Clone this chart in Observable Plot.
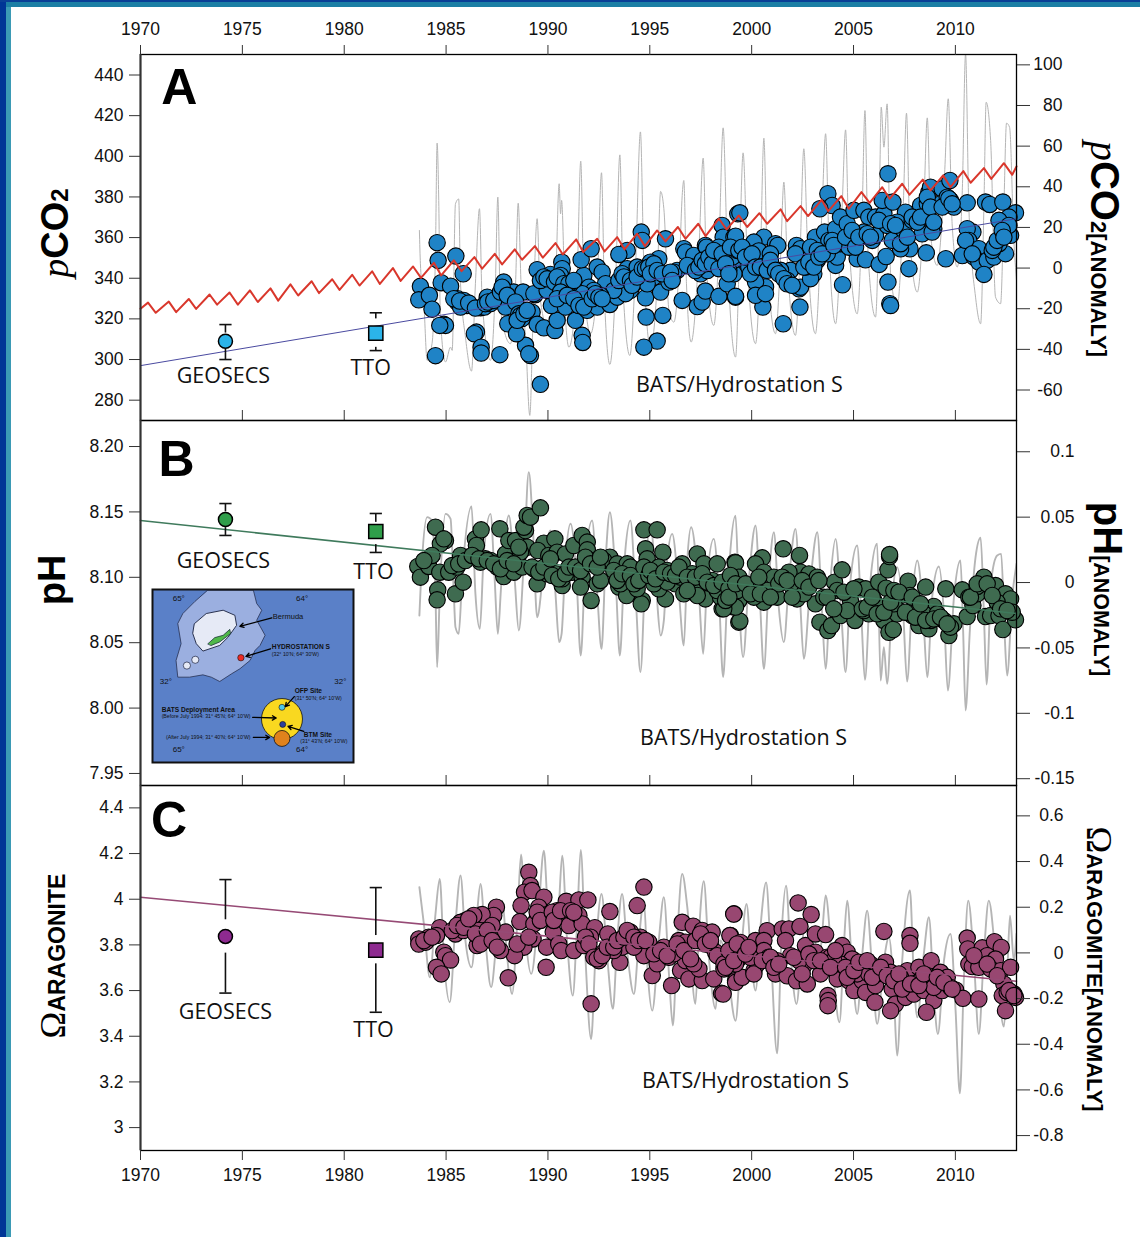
<!DOCTYPE html>
<html><head><meta charset="utf-8">
<script src="https://cdn.jsdelivr.net/npm/d3@7"></script>
<script src="https://cdn.jsdelivr.net/npm/@observablehq/plot@0.6"></script>
<style>
html,body{margin:0;padding:0;background:#fff}
#page{position:relative;width:1140px;height:1237px;overflow:hidden;background:#fff;font-family:"Liberation Sans",sans-serif;color:#000}
.band{position:absolute}
.panel{position:absolute;left:0}
.panel svg{display:block;background:transparent!important;overflow:visible}
.title{position:absolute;white-space:nowrap;font-weight:bold;line-height:1}
.title i{font-family:"Liberation Serif",serif;font-weight:normal}
.title .om{font-family:"Liberation Serif",serif;font-weight:normal}
</style></head><body><div id="page"></div>
<script>
const xTicks=[1970,1975,1980,1985,1990,1995,2000,2005,2010];
const pco2Ticks=[280,300,320,340,360,380,400,420,440];
const pco2AnomTicks=[-60,-40,-20,0,20,40,60,80,100];
const phTicks=[7.95,8.00,8.05,8.10,8.15,8.20];
const phAnomTicks=[-0.15,-0.1,-0.05,0,0.05,0.1];
const omegaTicks=[3,3.2,3.4,3.6,3.8,4,4.2,4.4];
const omegaAnomTicks=[-0.8,-0.6,-0.4,-0.2,0,0.2,0.4,0.6];

const atmCO2=[[1970,325],[1970.37,328],[1970.75,323],[1971.39,328.5],[1971.75,323.3],[1972.37,329.8],[1972.73,324.9],[1973.39,332],[1973.76,327],[1974.37,333],[1974.78,327],[1975.37,334],[1975.76,328.3],[1976.38,335],[1976.76,329],[1977.36,337],[1977.74,331.5],[1978.4,338.5],[1978.76,332.7],[1979.41,339.5],[1979.77,334.3],[1980.39,341.7],[1980.75,336.4],[1981.37,343.4],[1981.75,337.2],[1982.39,345],[1982.77,338.7],[1983.38,345.8],[1983.77,340.2],[1984.4,347.6],[1984.76,341.4],[1985.38,348.8],[1985.76,343.5],[1986.39,350.4],[1986.77,344.7],[1987.39,352],[1987.75,346.8],[1988.37,354.2],[1988.73,349.1],[1989.36,355.8],[1989.75,350.1],[1990.37,357.3],[1990.73,351.7],[1991.39,359.1],[1991.73,352.9],[1992.42,359.4],[1992.78,353.2],[1993.4,360.2],[1993.76,354.2],[1994.38,361.9],[1994.76,355.8],[1995.36,363.5],[1995.77,358.1],[1996.38,365.2],[1996.75,359.4],[1997.38,366.8],[1997.74,360.7],[1998.39,369.3],[1998.77,364],[1999.37,370.9],[1999.78,365.2],[2000.38,372],[2000.76,366.8],[2001.42,373.9],[2001.74,368.1],[2002.4,375.5],[2002.77,370.6],[2003.43,378.6],[2003.76,373],[2004.4,380.4],[2004.77,374.2],[2005.39,382.4],[2005.79,377.1],[2006.41,384.8],[2006.77,379.1],[2007.39,386.5],[2007.75,381.1],[2008.4,388.5],[2008.78,383.2],[2009.4,390.6],[2009.76,384.8],[2010.39,392.7],[2010.75,387],[2011.4,394.2],[2011.76,388.9],[2012.38,396.6],[2012.79,390.9],[2013,395]];

const grayPco2=[[1983.69,363.5],[1983.74,347.1],[1983.91,327.5],[1984.07,299.6],[1984.31,307.8],[1984.48,353.7],[1984.56,406.5],[1984.64,378.3],[1984.72,320.9],[1984.97,298.8],[1985.22,306.1],[1985.3,304.5],[1985.46,376.6],[1985.62,379],[1985.71,337.3],[1985.95,311.1],[1986.25,294.3],[1986.44,337.3],[1986.64,374.2],[1986.77,329.1],[1987.18,299.6],[1987.42,337.3],[1987.54,379.9],[1987.67,324.2],[1988.16,307.8],[1988.41,337.3],[1988.54,376.9],[1988.68,337.3],[1988.9,311.1],[1989.11,272.5],[1989.27,320.9],[1989.47,369.3],[1989.63,329.1],[1990.04,314.3],[1990.37,337.3],[1990.55,386.5],[1990.62,371.7],[1990.67,378.3],[1990.86,320.9],[1991.03,306.1],[1991.43,340.6],[1991.61,397.6],[1991.76,337.3],[1992.09,312.7],[1992.42,337.3],[1992.63,391.9],[1992.78,329.1],[1993.04,297.6],[1993.32,337.3],[1993.53,400.7],[1993.69,334],[1994.02,302],[1994.3,345.5],[1994.54,412],[1994.71,345.5],[1995.03,306.1],[1995.36,337.3],[1995.53,382.7],[1995.69,374.2],[1995.94,324.2],[1996.18,318.4],[1996.48,353.7],[1996.59,380.7],[1996.67,388.1],[1996.8,337.3],[1997.03,308.6],[1997.41,353.7],[1997.62,399.1],[1997.78,345.5],[1998.14,316.8],[1998.39,353.7],[1998.6,414],[1998.8,353.7],[1999.21,301.2],[1999.42,358.6],[1999.58,401.7],[1999.78,350.4],[2000.19,307.8],[2000.43,350.4],[2000.6,408.9],[2000.76,350.4],[2001.17,312.7],[2001.42,350.4],[2001.58,387.3],[2001.74,350.4],[2002.15,311.9],[2002.37,350.4],[2002.56,403.7],[2002.76,350.4],[2003.13,312.7],[2003.46,375],[2003.63,411.1],[2003.79,358.6],[2004.12,317.6],[2004.44,375],[2004.61,413],[2004.77,358.6],[2005.18,322.5],[2005.43,375],[2005.56,422.5],[2005.72,350.4],[2006.08,320.9],[2006.29,391.4],[2006.36,424.2],[2006.49,404.5],[2006.65,425.8],[2006.82,342.2],[2007.14,325.8],[2007.44,375],[2007.6,421.2],[2007.77,358.6],[2008.13,333.2],[2008.45,375],[2008.62,418.9],[2008.81,358.6],[2009.11,346.3],[2009.47,391.4],[2009.65,428.3],[2009.84,366.8],[2010.09,345.5],[2010.34,383.2],[2010.5,450.4],[2010.66,375],[2010.99,330.7],[2011.24,317.6],[2011.4,375],[2011.51,426.6],[2011.73,407.8],[2011.97,330.7],[2012.22,327.5],[2012.38,375],[2012.51,416.3],[2012.66,414.3],[2012.87,358.6],[2013,338.9]];

const batsPco2=[[1984.56,357.5],[1984.61,348.8],[1985.48,350.9],[1985.84,342.2],[1984.76,337.8],[1985.22,336.1],[1983.74,336],[1983.66,329.4],[1984.18,331.6],[1984.31,324.8],[1984.89,317.3],[1984.97,316.8],[1984.69,316.8],[1984.48,301.9],[1986.49,313.5],[1986.39,312.7],[1986.72,306.1],[1986.72,303.2],[1987.64,302.4],[1988.9,307],[1989.14,302],[1989.06,302.8],[1989.63,287.8],[1985.57,329.9],[1985.87,329.1],[1985.54,328.3],[1986.03,326.6],[1985.71,325.8],[1986.69,325.5],[1986.88,325.8],[1987.02,330.7],[1987.18,327.5],[1987.47,329.9],[1987.83,338.1],[1987.8,334.8],[1988.16,332.4],[1988.32,333.2],[1988.78,333.2],[1989.37,331.9],[1989.31,332.4],[1988.49,325.8],[1987.92,325.8],[1989.22,323.3],[1988.73,320.1],[1988.57,320.9],[1988.03,317.6],[1988.46,312.7],[1989.47,317.3],[1989.8,315.6],[1990.34,314.3],[1990.45,319.3],[1991.35,319.3],[1991.68,311.9],[1991.71,308.4],[1989.47,344.2],[1989.88,339.7],[1990.12,341.9],[1990.68,347.9],[1990.7,344.7],[1990.62,341.4],[1990.04,335.6],[1990.17,326.6],[1990.86,325.8],[1991.19,338.1],[1991.43,328.8],[1991.93,324.2],[1991.76,341.4],[1991.63,349.1],[1992.01,335.6],[1992.42,345.5],[1992.66,343],[1992.83,337.3],[1992.42,325.8],[1993.04,327.1],[1993.4,330.7],[1993.89,344.7],[1993.89,353.7],[1993.48,351.7],[1992.12,354.5],[1994.58,362.7],[1994.63,358.6],[1995.77,359.4],[1995.44,349.6],[1995.03,347.9],[1994.38,345.5],[1994.05,334],[1994.79,330.4],[1994.82,320.9],[1995.64,321.7],[1995.36,309.1],[1994.71,306.1],[1995.53,333.2],[1995.94,338.1],[1996.34,343.8],[1996.59,329.1],[1996.67,354.5],[1996.75,352.9],[1997.16,351.2],[1997.73,356.1],[1997.78,355.3],[1997.33,326.1],[1997.57,328.3],[1997.73,333.7],[1998.39,331.1],[1999.21,330.7],[1998.8,337.3],[1998.55,366],[1998.6,360.2],[1999.13,360.2],[1999.32,371.7],[1994.22,337.3],[1994.54,340.6],[1994.95,342.2],[1995.2,340.6],[1994.87,337.3],[1995.85,342.2],[1996.18,343],[1997.08,345.5],[1997.49,342.2],[1997.82,343.8],[1998.14,348.8],[1998.47,353.7],[1998.96,355.3],[1999.29,347.1],[1999.13,342.2],[1998.64,347.1],[1993.56,337.3],[1993.81,332.4],[1993.23,334],[1992.58,331.6],[1992.25,334],[1991.68,332.4],[1991.11,337.3],[1990.53,332.4],[1989.96,334],[1999.42,372.2],[1999.21,360.7],[1999.21,331.1],[2000.6,360.2],[2000.11,357.8],[2000.35,353.4],[2001.17,357],[2001.28,356.1],[2000.68,335.7],[2000.55,325.8],[2000.19,338.1],[2000.19,331.6],[2000.68,332.4],[2001.55,317.6],[2002.37,325.8],[2002.33,334.8],[2001.91,343.9],[2002.4,335.6],[2002.2,356.1],[2002.4,354.5],[2003.13,360.2],[2002.89,355.3],[2003.74,381.6],[2003.95,375.8],[2003.35,374.2],[2003.58,362.7],[2003.79,358.6],[2004.12,364.4],[2004.36,370.1],[2004.69,366.8],[2004.93,358.6],[2005.02,373.4],[2005.51,373.4],[2005.75,370.1],[2006.08,370.1],[2006.49,371.7],[2006.69,391.4],[2006.41,378.3],[2006.93,377.5],[2004.12,346.3],[2004.46,336.8],[2004.2,350.4],[2003.22,348.8],[2003.05,342.2],[2002.89,339.8],[2005.18,349.6],[2005.59,349.1],[2006.26,346.8],[2006.6,350.7],[2006.69,338.1],[2006.78,327.5],[2006.82,326.6],[2007.77,354.5],[2007.72,344.7],[2007.31,354.5],[2008.57,352.5],[2009.53,349.6],[2008.94,364.4],[2008.37,361.9],[2007.55,372.5],[2007.96,369.3],[2008.29,375.8],[2008.7,382.4],[2008.78,384.8],[2008.62,376.6],[2008.62,370.1],[2009.35,384],[2009.73,388.1],[2009.27,376.6],[2009.6,379.9],[2009.76,378.3],[2009.93,375],[2010.58,377.1],[2011.48,377.5],[2011.69,376.3],[2012.33,377.5],[2012.95,372.2],[2012.63,370.1],[2012.14,368.5],[2012.71,361.1],[2012.63,366],[2010.86,362.7],[2010.58,364.4],[2010.66,358.6],[2010.66,354.5],[2010.34,351.2],[2011.15,354.5],[2010.91,350.4],[2011.15,348],[2011.56,348.8],[2011.4,341.9],[2011.89,350.4],[2012.46,352.1],[2012.14,357],[2011.81,353.7],[1998.8,352],[1999.12,348.8],[1999.62,352],[1999.86,345.5],[2000.27,345.5],[2000.92,352],[2001.42,343.9],[2001.74,339],[2002.64,345.5],[2003.22,353.7],[2003.71,352],[2004.36,357],[2004.77,355.3],[2005.34,360.2],[2005.92,358.6],[2005.51,362.7],[2006.08,361.1],[2006.65,366],[2007.14,367.6],[2006.9,358.6],[2007.47,363.5],[2007.88,368.5],[2008.45,370.1],[2008.86,362.7],
[1985.38,329.9],[1985.67,328.8],[1986.11,327.8],[1986.44,325.3],[1986.93,327.5],[1987.05,328.3],[1987.34,329.1],[1987.67,333.2],[1987.75,335.6],[1988,331.6],[1988.41,328.3],[1988.57,322.5],[1988.65,321.7],[1988.49,319.3],[1988.82,322.5],[1988.98,324.2],[1989.63,338.9],[1989.8,340.6],[1989.96,339.7],[1990.32,338.1],[1990.45,340.6],[1990.78,337.3],[1990.86,334],[1991.03,337.3],[1991.27,338.9],[1990.62,333.2],[1990.45,329.9],[1990.94,331.6],[1991.27,329.9],[1991.52,326.6],[1991.76,325.8],[1992.17,329.9],[1992.33,332.4],[1992.5,330.7],[1992.66,329.9],[1993.48,338.9],[1993.64,342.2],[1993.73,340.6],[1994.05,338.9],[1994.13,336.5],[1994.38,340.6],[1994.63,344.7],[1994.79,344.7],[1994.95,345.5],[1995.2,347.1],[1995.03,342.2],[1995.36,343.8],[1995.61,342.2],[1996.02,343],[1996.1,338.9],[1996.84,346.3],[1997.24,343.8],[1997.41,345.5],[1997.57,348.8],[1997.73,347.1],[1997.9,350.4],[1998.06,347.1],[1998.39,344.7],[1998.47,352],[1998.72,349.6],[1998.88,343.8],[1999.05,350.4],[1999.29,353.7],[1998.39,355.3],[1998.14,353.7],
[1998.55,352],[1998.72,347.1],[1998.96,355.3],[1998.88,342.2],[1999.37,353.7],[1999.53,355.3],[1999.7,350.4],[1999.94,342.2],[2000.02,352],[2000.19,345.5],[2000.43,345.5],[2000.76,343.9],[2000.92,348.8],[2001.17,343.9],[2001.33,342.2],[2001.58,339.8],[2001.74,337.3],[2001.99,336.5],[2002.15,352],[2002.56,345.5],[2002.81,348],[2003.05,345.5],[2003.3,350.4],[2003.46,352],[2003.95,358.6],[2004.03,356.1],[2004.61,360.2],[2004.93,363.5],[2005.1,355.3],[2005.26,360.2],[2005.67,361.9],[2005.83,360.2],[2006.24,368.5],[2006.82,366.8],[2007.06,366],[2007.31,357],[2007.64,360.2],[2007.88,370.1],[2008.13,367.6],[2008.29,370.1],[2008.62,379.9],[2008.78,375],[2008.94,367.6],[2009.35,375],[2009.68,379.1],[2009.84,376.6],[2010.5,358.6],[2010.83,352],[2011.89,355.3],[2012.05,358.6],[2012.3,363.5],[2012.38,360.2]];

const grayPh=[[1983.69,8.0708],[1983.82,8.1128],[1984.07,8.146],[1984.31,8.1434],[1984.48,8.0874],[1984.56,8.0313],[1984.69,8.0874],[1984.97,8.1485],[1985.22,8.1447],[1985.38,8.0874],[1985.46,8.0619],[1985.62,8.0568],[1985.79,8.1001],[1986.25,8.1541],[1986.44,8.0874],[1986.66,8.0606],[1986.85,8.1179],[1987.18,8.1485],[1987.38,8.1001],[1987.54,8.0568],[1987.7,8.0925],[1988.08,8.1473],[1988.36,8.1001],[1988.57,8.0593],[1988.82,8.1128],[1989.06,8.1804],[1989.26,8.1383],[1989.47,8.0695],[1989.8,8.1078],[1990.12,8.1358],[1990.37,8.0874],[1990.55,8.0504],[1990.67,8.0568],[1990.86,8.1128],[1991.11,8.1409],[1991.4,8.1001],[1991.61,8.0402],[1991.84,8.1128],[1992.17,8.1434],[1992.42,8.0874],[1992.63,8.0453],[1992.83,8.1128],[1993.04,8.1498],[1993.32,8.1001],[1993.53,8.0402],[1993.76,8.1128],[1994.05,8.1434],[1994.3,8.0874],[1994.54,8.0275],[1994.79,8.1078],[1995.03,8.1409],[1995.33,8.0874],[1995.53,8.0555],[1995.69,8.067],[1995.85,8.1128],[1996.1,8.1332],[1996.43,8.0874],[1996.67,8.0479],[1996.84,8.1128],[1997.03,8.1383],[1997.41,8.0874],[1997.62,8.0415],[1997.82,8.1001],[1998.14,8.1294],[1998.39,8.0874],[1998.6,8.0237],[1998.8,8.0848],[1999.21,8.1472],[1999.37,8.0848],[1999.58,8.039],[1999.86,8.0975],[2000.19,8.1396],[2000.4,8.0848],[2000.6,8.030],[2000.84,8.0975],[2001.09,8.1345],[2001.33,8.0772],[2001.58,8.0504],[2001.83,8.0975],[2002.15,8.137],[2002.37,8.0848],[2002.56,8.0377],[2002.89,8.0975],[2003.22,8.1345],[2003.46,8.072],[2003.63,8.030],[2003.87,8.0975],[2004.12,8.1294],[2004.4,8.072],[2004.61,8.0275],[2004.85,8.0975],[2005.18,8.1243],[2005.38,8.072],[2005.56,8.0216],[2005.83,8.0975],[2006.16,8.1256],[2006.33,8.021],[2006.49,8.0466],[2006.65,8.0185],[2006.9,8.0848],[2007.14,8.1077],[2007.44,8.072],[2007.63,8.0203],[2007.88,8.0848],[2008.13,8.1128],[2008.42,8.072],[2008.62,8.0236],[2008.86,8.0848],[2009.19,8.1083],[2009.44,8.072],[2009.63,8.0135],[2009.93,8.0848],[2010.25,8.1128],[2010.38,8.0593],[2010.5,7.9982],[2010.71,8.0593],[2010.99,8.1154],[2011.24,8.1302],[2011.4,8.072],[2011.53,8.018],[2011.76,8.0975],[2012.05,8.1167],[2012.25,8.1179],[2012.41,8.0593],[2012.54,8.0249],[2012.79,8.0848],[2013,8.1103]];

const batsPh=[[1984.48,8.1383],[1984.97,8.1281],[1984.72,8.1256],[1984.89,8.1294],[1983.61,8.1083],[1983.74,8.1001],[1984.15,8.1083],[1984.31,8.1167],[1984.69,8.1039],[1984.59,8.0904],[1984.56,8.0828],[1985.13,8.1039],[1985.46,8.0874],[1985.84,8.0963],[1985.54,8.1078],[1985.79,8.1129],[1986.03,8.1154],[1985.71,8.1167],[1986.44,8.1294],[1986.72,8.1363],[1986.49,8.1243],[1986.69,8.1116],[1986.93,8.1141],[1987.18,8.1129],[1987.51,8.1078],[1987.83,8.1006],[1987.64,8.1371],[1987.92,8.1179],[1988.08,8.1281],[1988.41,8.1281],[1988.32,8.1039],[1988.73,8.1078],[1988.9,8.1358],[1988.82,8.1383],[1988.98,8.1473],[1989.14,8.146],[1989.63,8.1531],[1988.98,8.1230],[1988.65,8.1192],[1989.31,8.1065],[1989.47,8.0950],[1989.8,8.1261],[1989.5,8.1205],[1990.34,8.1294],[1990.04,8.1167],[1990.45,8.1192],[1990.86,8.1179],[1989.96,8.1027],[1990.37,8.1027],[1990.7,8.0937],[1990.7,8.0988],[1991.19,8.1039],[1991.27,8.1243],[1991.68,8.132],[1991.93,8.1269],[1991.93,8.1210],[1991.68,8.1001],[1991.6,8.0925],[1992.12,8.0823],[1992.42,8.0950],[1992.58,8.0976],[1992.25,8.1129],[1993.04,8.1154],[1992.74,8.1129],[1993.4,8.1103],[1993.48,8.0925],[1993.89,8.1103],[1994.05,8.1078],[1993.86,8.0937],[1993.86,8.0861],[1994.63,8.0823],[1994.58,8.0797],[1994.71,8.1363],[1995.36,8.1363],[1994.79,8.1218],[1994.87,8.1141],[1995.64,8.1192],[1995.77,8.0835],[1995.44,8.0912],[1994.38,8.0912],[1995.2,8.095],[1995.44,8.1078],[1995.85,8.1052],[1996.59,8.1103],[1996.26,8.095],[1996.67,8.0874],[1997.08,8.1027],[1997.16,8.0886],[1997.33,8.1179],[1997.66,8.1103],[1997.73,8.0835],[1998.31,8.1103],[1998.06,8.0976],[1998.55,8.0759],[1998.47,8.0848],[1999.13,8.0772],[1999.18,8.1116],[1999.37,8.0657],[1999.13,8.0976],[1998.72,8.095],[1999.37,8.0823],[1994.54,8.1001],[1994.87,8.1039],[1993.56,8.095],[1994.22,8.0976],[1995.85,8.0963],[1996.51,8.1001],[1997,8.0937],[1997.49,8.095],[1998.31,8.0899],[1999.21,8.1111],[1999.42,8.0665],[1999.21,8.0772],[1998.63,8.0759],[2000.52,8.1149],[2000.19,8.1103],[2000.6,8.1039],[2000.6,8.081],[2001.25,8.0848],[2001.55,8.1218],[2002.35,8.1167],[2002.4,8.1039],[2001.83,8.1039],[2001.09,8.1001],[2000.11,8.0848],[1999.45,8.0975],[1998.8,8.0975],[2002.23,8.0835],[2002.81,8.1026],[2003.22,8.1001],[2003.13,8.0797],[2003.35,8.0657],[2003.74,8.0593],[2003.92,8.0631],[2004.07,8.0963],[2004.44,8.1057],[2004.2,8.0899],[2004.36,8.0708],[2005.07,8.067],[2004.85,8.0823],[2005.26,8.0925],[2005.59,8.0912],[2006,8.0823],[2005.75,8.0721],[2006.24,8.0963],[2006.6,8.0917],[2006.69,8.1057],[2006.77,8.1159],[2006.77,8.1174],[2006.49,8.067],[2006.74,8.058],[2006.95,8.0601],[2007.14,8.0721],[2007.68,8.097],[2007.77,8.0861],[2007.31,8.0861],[2008.21,8.0631],[2007.88,8.0708],[2008.7,8.0606],[2008.54,8.0925],[2008.94,8.0777],[2008.29,8.0759],[2008.78,8.067],[2009.44,8.067],[2009.53,8.0912],[2009.93,8.0644],[2009.68,8.0555],[2009.76,8.0619],[2010.34,8.0904],[2010.58,8.07],[2010.86,8.0784],[2010.66,8.0848],[2011.4,8.1001],[2011.07,8.0874],[2011.48,8.07],[2011.07,8.0930],[2011.97,8.0937],[2011.73,8.0708],[2012.14,8.0708],[2012.33,8.0601],[2012.46,8.0874],[2012.71,8.0835],[2012.95,8.0675],[2012.79,8.0733],[2012.05,8.081],[1999.78,8.0925],[2000.27,8.095],[2000.76,8.0899],[2001.33,8.095],[2001.99,8.0925],[2002.56,8.0874],[2003.54,8.0848],[2004.69,8.0746],[2005.51,8.0746],[2006.33,8.0772],[2006.98,8.0797],[2007.64,8.0733],[2008.45,8.0721],[2009.11,8.0721],
[1983.91,8.1128],[1985.3,8.109],[1985.62,8.1103],[1985.95,8.1128],[1986.28,8.1167],[1986.61,8.1141],[1987.02,8.1128],[1987.34,8.1103],[1987.67,8.1065],[1988,8.1128],[1988.32,8.1103],[1988.57,8.123],[1989.22,8.1078],[1989.55,8.1039],[1989.8,8.1078],[1990.12,8.1141],[1990.21,8.1014],[1990.53,8.0988],[1990.86,8.1027],[1991.03,8.1078],[1991.35,8.1078],[1991.6,8.1052],[1991.84,8.1154],[1992.09,8.1103],[1992.42,8.1078],[1992.58,8.1154],[1993.23,8.1052],[1993.4,8.0976],[1993.64,8.1027],[1994.05,8.1014],[1994.22,8.095],[1994.46,8.0976],[1994.71,8.1078],[1994.95,8.1014],[1995.03,8.1052],[1995.28,8.0988],[1995.69,8.1039],[1996.02,8.1027],[1996.26,8.1014],[1996.43,8.1078],[1996.84,8.1001],[1997.24,8.1001],[1997.57,8.1027],[1997.82,8.0963],[1998.14,8.0937],[1998.55,8.0963],[1998.88,8.0912],[1999.29,8.0899],[1999.37,8.1001],[1998.96,8.1014],[1998.72,8.0823],[1997.33,8.0861],[1996.84,8.0899],
[1998.88,8.0848],[1999.21,8.095],[1999.7,8.095],[1999.94,8.0874],[2000.35,8.1001],[2000.43,8.0874],[2000.92,8.0848],[2001.5,8.1001],[2001.74,8.0975],[2001.99,8.0848],[2002.48,8.0975],[2002.81,8.0925],[2003.3,8.0975],[2003.71,8.0848],[2004.03,8.0759],[2004.53,8.0886],[2005.02,8.0912],[2005.43,8.0759],[2005.67,8.0772],[2005.92,8.0848],[2006.16,8.0721],[2006.49,8.0733],[2006.82,8.081],[2006.98,8.0899],[2007.23,8.0886],[2007.55,8.0733],[2007.88,8.0848],[2008.04,8.0695],[2008.29,8.0797],[2008.54,8.067],[2008.94,8.0682],[2009.27,8.0695],[2009.6,8.0644],[2010.74,8.0848],[2011.07,8.095],[2011.56,8.095],[2011.81,8.0861],[2012.22,8.0759],[2012.54,8.0746]];

const grayOmega=[[1983.69,4.053],[1983.91,3.892],[1984.2,3.658],[1984.48,3.936],[1984.69,4.089],[1984.89,3.746],[1985.18,3.549],[1985.46,3.892],[1985.71,4.104],[1985.95,3.819],[1986.25,3.702],[1986.49,3.907],[1986.69,4.067],[1986.93,3.819],[1987.21,3.615],[1987.51,3.848],[1987.75,3.994],[1988,3.746],[1988.24,3.585],[1988.49,3.892],[1988.68,4.196],[1988.9,3.848],[1989.18,3.673],[1989.55,3.965],[1989.8,4.213],[1990.04,3.892],[1990.29,3.834],[1990.53,3.965],[1990.7,4.191],[1990.94,3.819],[1991.22,3.578],[1991.43,3.892],[1991.61,4.216],[1991.84,3.746],[1992.12,3.388],[1992.33,3.746],[1992.63,4.023],[1992.91,3.746],[1993.19,3.52],[1993.4,3.819],[1993.64,4.023],[1993.92,3.746],[1994.22,3.585],[1994.46,3.819],[1994.71,3.994],[1994.9,3.673],[1995.12,3.512],[1995.44,3.819],[1995.69,4.009],[1995.94,3.673],[1996.13,3.447],[1996.34,3.819],[1996.59,4.111],[1996.84,3.965],[1997.24,3.542],[1997.41,3.848],[1997.65,4.079],[1997.9,3.746],[1998.23,3.52],[1998.47,3.819],[1998.76,3.731],[1999.21,3.468],[1999.45,3.731],[1999.75,3.979],[1999.98,3.731],[2000.19,3.6],[2000.43,3.877],[2000.71,4.074],[2000.92,3.804],[2001.25,3.325],[2001.47,3.848],[2001.69,4.059],[2001.91,3.76],[2002.2,3.541],[2002.48,3.804],[2002.64,3.906],[2002.97,3.76],[2003.22,3.673],[2003.46,3.848],[2003.63,4.016],[2003.95,3.731],[2004.31,3.461],[2004.53,3.804],[2004.69,3.994],[2004.93,3.702],[2005.18,3.497],[2005.43,3.76],[2005.67,3.95],[2005.92,3.687],[2006.16,3.454],[2006.49,3.731],[2006.74,3.833],[2006.98,3.585],[2007.14,3.315],[2007.39,3.731],[2007.77,4.038],[2007.96,3.658],[2008.13,3.483],[2008.45,3.76],[2008.7,3.921],[2008.94,3.585],[2009.14,3.41],[2009.44,3.731],[2009.76,3.848],[2010.01,3.512],[2010.22,3.15],[2010.42,3.658],[2010.63,3.994],[2010.91,3.731],[2011.15,3.41],[2011.4,3.76],[2011.64,3.994],[2011.97,3.76],[2012.38,3.442],[2012.54,3.658],[2012.68,3.928],[2012.87,3.731],[2013,3.848]];

const batsOmega=[[1989.06,4.118],[1989.14,4.060],[1988.85,4.031],[1989.22,4.038],[1988.68,3.972],[1988.62,3.902],[1989.8,4.009],[1989.55,3.965],[1989.47,3.914],[1989.31,3.892],[1989.27,3.826],[1988.82,3.790],[1988.36,3.753],[1987.92,3.856],[1987.67,3.775],[1988.05,3.656],[1987.47,3.965],[1987.34,3.929],[1986.77,3.933],[1986.36,3.929],[1985.95,3.907],[1985.71,3.899],[1985.46,3.848],[1985.84,3.863],[1984.69,3.875],[1984.53,3.841],[1984.15,3.834],[1983.66,3.826],[1983.66,3.804],[1984,3.812],[1984.89,3.768],[1984.97,3.753],[1985.22,3.734],[1984.53,3.702],[1984.76,3.673],[1986.52,3.797],[1986.69,3.819],[1986.98,3.826],[1986.61,3.863],[1987.26,3.885],[1989.91,3.702],[1989.93,3.790],[1990.26,3.856],[1990.53,3.804],[1990.65,3.775],[1990.04,3.936],[1990.45,3.950],[1990.9,3.991],[1990.78,3.936],[1991.03,3.885],[1991.27,3.775],[1991.52,3.997],[1991.96,3.997],[1991.52,3.929],[1991.68,3.892],[1991.76,3.797],[1992.3,3.875],[1992.09,3.834],[1992.12,3.542],[1992.5,3.731],[1992.74,3.768],[1992.94,3.848],[1993.04,3.946],[1993.53,3.724],[1994.05,3.856],[1994.38,3.972],[1994.71,4.053],[1994.54,3.834],[1994.95,3.812],[1994.71,3.753],[1995.12,3.666],[1995.36,3.717],[1995.69,3.790],[1996.07,3.622],[1995.94,3.746],[1996.59,3.899],[1997.13,3.882],[1996.43,3.819],[1996.75,3.812],[1996.51,3.688],[1996.92,3.651],[1997.57,3.644],[1997.41,3.695],[1997.57,3.863],[1998.06,3.856],[1997.98,3.797],[1998.23,3.768],[1998.14,3.651],[1998.52,3.588],[1999.13,3.936],[1998.96,3.841],[1998.64,3.695],[1999.21,3.644],[1996.75,3.731],[1997.16,3.717],[1993.64,3.790],[1993.23,3.775],[1994.22,3.790],[1996.18,3.761],[1998.47,3.746],[1998.96,3.746],[1999.12,3.935],[1998.93,3.841],[1999.45,3.811],[1998.6,3.585],[1999.21,3.636],[1999.53,3.658],[2000.11,3.687],[2000.27,3.716],[2000.19,3.819],[2000.76,3.862],[2000.6,3.819],[2000.6,3.775],[2001.17,3.673],[2001.5,3.870],[2001.83,3.870],[2001.66,3.819],[2001.91,3.753],[2001.74,3.665],[2002.28,3.984],[2002.92,3.933],[2002.37,3.881],[2002.2,3.643],[2002.73,3.629],[2002.56,3.709],[2002.64,3.797],[2003.13,3.848],[2003.63,3.845],[2003.13,3.768],[2003.38,3.673],[2003.74,3.578],[2003.76,3.556],[2003.74,3.534],[2003.71,3.746],[2004.2,3.651],[2004.44,3.797],[2004.69,3.768],[2004.93,3.738],[2004.36,3.716],[2004.77,3.643],[2005.02,3.600],[2005.43,3.643],[2005.59,3.592],[2005.51,3.724],[2005.83,3.716],[2006.08,3.622],[2006.05,3.549],[2006.49,3.859],[2006.57,3.724],[2006.82,3.680],[2006.9,3.607],[2007.06,3.541],[2006.82,3.512],[2006.16,3.673],[2007.77,3.841],[2007.77,3.807],[2007.64,3.687],[2007.55,3.570],[2007.88,3.629],[2008.21,3.702],[2007.96,3.585],[2008.45,3.600],[2008.81,3.731],[2008.62,3.665],[2008.94,3.556],[2008.58,3.505],[2009.27,3.680],[2009.6,3.658],[2009.35,3.600],[2009.76,3.614],[2010.01,3.603],[2010.37,3.566],[2011.15,3.563],[2010.58,3.830],[2010.61,3.782],[2010.66,3.716],[2010.83,3.705],[2011.32,3.787],[2011.15,3.702],[2011.92,3.814],[2012.25,3.789],[2011.56,3.753],[2011.97,3.738],[2011.73,3.695],[2012.22,3.687],[2012.71,3.702],[2012.38,3.629],[2012.3,3.578],[2012.46,3.512],[2012.54,3.592],[2012.95,3.570],[2012.87,3.585],[1998.8,3.746],[1999.29,3.731],[1999.94,3.746],[2000.84,3.746],[2001.25,3.731],[2002.32,3.731],[2003.87,3.746],[2004.03,3.731],[2005.18,3.673],[2005.75,3.673],[2007.31,3.658],[2008.29,3.643],[2008.94,3.614],
[1983.91,3.819],[1984.31,3.834],[1985.3,3.863],[1985.54,3.885],[1985.87,3.877],[1986.11,3.914],[1986.44,3.848],[1987.02,3.863],[1986.69,3.804],[1987.26,3.819],[1987.51,3.79],[1988.49,3.804],[1989.06,3.834],[1989.47,3.943],[1989.63,3.907],[1990.21,3.943],[1990.29,3.907],[1990.62,3.95],[1991.11,3.95],[1991.27,3.943],[1991.84,3.834],[1992.01,3.804],[1992.25,3.746],[1992.42,3.739],[1992.66,3.753],[1992.91,3.79],[1993.23,3.79],[1993.4,3.819],[1993.73,3.834],[1993.89,3.863],[1994.22,3.834],[1994.46,3.819],[1994.79,3.819],[1995.2,3.761],[1995.53,3.775],[1995.85,3.753],[1996.34,3.804],[1996.67,3.775],[1997,3.739],[1997.24,3.819],[1997.49,3.848],[1997.73,3.804],[1997.98,3.819],[1998.31,3.753],[1998.64,3.717],[1998.88,3.775],[1999.29,3.804],[1999.21,3.717],
[1998.72,3.702],[1999.12,3.731],[1999.7,3.76],[1999.86,3.789],[2000.11,3.673],[2000.52,3.731],[2000.92,3.746],[2001.09,3.702],[2001.33,3.716],[2002.07,3.746],[2002.48,3.673],[2002.81,3.76],[2003.05,3.731],[2003.38,3.731],[2003.87,3.702],[2004.12,3.775],[2004.61,3.702],[2004.69,3.658],[2005.02,3.687],[2005.26,3.724],[2005.67,3.731],[2005.92,3.658],[2006.33,3.702],[2006.65,3.665],[2006.98,3.643],[2007.23,3.673],[2007.39,3.607],[2007.8,3.629],[2008.21,3.622],[2008.45,3.673],[2009.11,3.658],[2009.44,3.636],[2009.84,3.607],[2010.91,3.753],[2011.56,3.716],[2012.05,3.665],[2012.63,3.6],[2012.87,3.578]];

const trendPco2=[[1970,297],[2013,369.3]];
const trendPh=[[1970,8.1434],[2013,8.0723]];
const trendOmega=[[1970,4.009],[2013,3.641]];

const cruises=["GEOSECS","TTO"];
const cruiseYears=[1974.17,1981.55];
const pco2Cruise=[309,313], pco2Lo=[300,304.4], pco2Hi=[317.2,323];
const pco2GapLo=[305,306], pco2GapHi=[313,320];
const phCruise=[8.1442,8.135], phLo=[8.132,8.119], phHi=[8.1564,8.1488];
const phGapLo=[8.138,8.125], phGapHi=[8.15,8.142];
const omegaCruise=[3.837,3.777], omegaLo=[3.589,3.505], omegaHi=[4.086,4.051];
const omegaGapLo=[3.764,3.717], omegaGapHi=[3.91,3.841];

const X=d=>d[0],Y=d=>d[1];
const page=document.getElementById("page");
const sans='"Liberation Sans",sans-serif', myriad='"Open Sans",sans-serif';

function panel({top,height,marginTop,marginBottom,domain,data,gray,grayWidth,trend,trendColor,trendWidth,dotColor,cruise,lo,hi,gapLo,gapHi,cruiseFill,ticks,tickFormat,anomTicks,anomBase,anomPad,labels,letter,extra=[],topAxis,bottomAxis,capHalf=0.3}){
  const y0=domain[0],yR=(domain[1]-domain[0])/(height-marginTop-marginBottom);
  const rows=cruises.map((name,i)=>({name,x:cruiseYears[i],v:cruise[i],lo:lo[i],hi:hi[i],gl:gapLo[i],gh:gapHi[i]}));
  const marks=[
    Plot.line(gray,{x:X,y:Y,stroke:"#b5b5b5",strokeWidth:grayWidth,clip:true,curve:"monotone-x"}),
    Plot.dot(data,{x:X,y:Y,r:8.2,fill:dotColor,stroke:"#000",strokeWidth:1.1}),
    Plot.line(trend,{x:X,y:Y,stroke:trendColor,strokeWidth:trendWidth}),
    ...extra,
    Plot.ruleX(rows,{x:"x",y1:"lo",y2:"gl",stroke:"#111",strokeWidth:1.6}),
    Plot.ruleX(rows,{x:"x",y1:"gh",y2:"hi",stroke:"#111",strokeWidth:1.6}),
    Plot.link(rows,{x1:d=>d.x-capHalf,x2:d=>d.x+capHalf,y1:"lo",y2:"lo",stroke:"#111",strokeWidth:1.6}),
    Plot.link(rows,{x1:d=>d.x-capHalf,x2:d=>d.x+capHalf,y1:"hi",y2:"hi",stroke:"#111",strokeWidth:1.6}),
    Plot.dot(rows.slice(0,1),{x:"x",y:"v",r:7,fill:cruiseFill,stroke:"#000",strokeWidth:1.5}),
    Plot.dot(rows.slice(1),{x:"x",y:"v",r:8,symbol:"square",fill:cruiseFill,stroke:"#000",strokeWidth:1.5}),
    Plot.text(labels,{x:"x",y:"y",text:"t",fontFamily:myriad,fontSize:21.5,fill:"#111"}),
    Plot.text([letter],{x:"x",y:"y",text:"t",fontFamily:sans,fontWeight:"bold",fontSize:50,fill:"#000"}),
    Plot.axisY({anchor:"left",ticks,tickFormat,tickSize:11,tickPadding:6,label:null,fontSize:17.5,fontFamily:sans,fill:"#111",stroke:"#333"}),
    Plot.axisY({anchor:"right",ticks:anomTicks.map(a=>anomBase+a),tickFormat:d=>String(+(d-anomBase).toFixed(2)),tickSize:13,tickPadding:anomPad,textAnchor:"end",label:null,fontSize:17.5,fontFamily:sans,fill:"#111",stroke:"#333"}),
    Plot.frame({stroke:"#000",strokeWidth:1.3}),
    Plot.ruleX([1970],{x:d=>d,stroke:"#333",strokeWidth:2})
  ];
  if(topAxis) marks.push(Plot.axisX({anchor:"top",ticks:xTicks,tickFormat:d=>String(d),tickSize:10,tickPadding:10,label:null,fontSize:17.5,fontFamily:sans,fill:"#111",stroke:"#333"}));
  if(bottomAxis) marks.push(Plot.axisX({anchor:"bottom",ticks:xTicks,tickFormat:d=>String(d),tickSize:10,tickPadding:8,label:null,fontSize:17.5,fontFamily:sans,fill:"#111",stroke:"#333"}));
  else marks.push(Plot.ruleX(xTicks,{x:d=>d,y1:y0,y2:y0+10*yR,stroke:"#333",strokeWidth:1}));
  const chart=Plot.plot({width:1140,height,marginTop,marginBottom,marginLeft:140,marginRight:124,
    style:{background:"transparent",overflow:"visible"},
    x:{domain:[1970,2013],axis:null},y:{domain,axis:null},marks});
  const box=document.createElement("div");box.className="panel";box.style.top=top+"px";box.appendChild(chart);page.appendChild(box);
}

panel({top:0,height:430,marginTop:54,marginBottom:10,domain:[270,450.09],data:batsPco2,gray:grayPco2,grayWidth:1,trend:trendPco2,trendColor:"#4a4aa0",trendWidth:1,dotColor:"#1f83c6",cruise:pco2Cruise,lo:pco2Lo,hi:pco2Hi,gapLo:pco2GapLo,gapHi:pco2GapHi,cruiseFill:"#2bb4ea",ticks:pco2Ticks,tickFormat:d=>String(d),anomTicks:pco2AnomTicks,anomBase:345,anomPad:33,topAxis:true,
  labels:[{x:1974.07,y:291.7,t:"GEOSECS"},{x:1981.3,y:295.6,t:"TTO"},{x:1999.4,y:287.4,t:"BATS/Hydrostation S"}],
  letter:{x:1971.9,y:433.8,t:"A"},
  extra:[Plot.line(atmCO2,{x:X,y:Y,stroke:"#d9372c",strokeWidth:2})]});

panel({top:410,height:385,marginTop:10,marginBottom:10,domain:[7.9408,8.2199],data:batsPh,gray:grayPh,grayWidth:1.9,trend:trendPh,trendColor:"#3f7a5c",trendWidth:1.6,dotColor:"#3f6b50",cruise:phCruise,lo:phLo,hi:phHi,gapLo:phGapLo,gapHi:phGapHi,cruiseFill:"#2f9e4a",ticks:phTicks,tickFormat:d=>d.toFixed(2),anomTicks:phAnomTicks,anomBase:8.096,anomPad:45,
  labels:[{x:1974.07,y:8.112,t:"GEOSECS"},{x:1981.44,y:8.1037,t:"TTO"},{x:1999.6,y:7.9768,t:"BATS/Hydrostation S"}],
  letter:{x:1971.77,y:8.19,t:"B"}});

panel({top:775,height:462,marginTop:10,marginBottom:87,domain:[2.8997,4.498],data:batsOmega,gray:grayOmega,grayWidth:1.9,trend:trendOmega,trendColor:"#964a75",trendWidth:1.6,dotColor:"#984771",cruise:omegaCruise,lo:omegaLo,hi:omegaHi,gapLo:omegaGapLo,gapHi:omegaGapHi,cruiseFill:"#8e2a90",ticks:omegaTicks,tickFormat:d=>String(+d.toFixed(1)),anomTicks:omegaAnomTicks,anomBase:3.765,anomPad:34,bottomAxis:true,
  labels:[{x:1974.17,y:3.504,t:"GEOSECS"},{x:1981.44,y:3.429,t:"TTO"},{x:1999.7,y:3.202,t:"BATS/Hydrostation S"}],
  letter:{x:1971.4,y:4.344,t:"C"}});

// inset map, in longitude / latitude
const shelf=[[-64.763,32.630],[-64.395,32.630],[-64.368,32.538],[-64.327,32.492],[-64.368,32.423],[-64.300,32.319],[-64.341,32.249],[-64.381,32.215],[-64.422,32.145],[-64.504,32.088],[-64.572,32.053],[-64.668,32.000],[-64.736,32.030],[-64.804,32.046],[-64.913,32.030],[-65.008,32.030],[-65.022,32.145],[-64.981,32.261],[-65.008,32.400],[-64.967,32.469],[-64.872,32.550]];
const platform=[[-64.872,32.400],[-64.777,32.469],[-64.640,32.492],[-64.545,32.457],[-64.531,32.388],[-64.599,32.307],[-64.668,32.249],[-64.804,32.210],[-64.858,32.261],[-64.886,32.330]];
const island=[[-64.763,32.261],[-64.708,32.303],[-64.640,32.319],[-64.586,32.360],[-64.580,32.330],[-64.668,32.273],[-64.736,32.249]];
const arrows=[[-64.245,32.439,-64.504,32.381],[-64.256,32.226,-64.455,32.173],[-64.063,31.896,-64.136,31.827],[-64.401,31.753,-64.210,31.748],[-64.395,31.614,-64.264,31.614],[-63.986,31.656,-64.114,31.691]];
const mapBold=[[-64.245,32.24,"HYDROSTATION S"],[-64.06,31.933,"OFP Site"],[-65.139,31.804,"BATS Deployment Area"],[-63.986,31.635,"BTM Site"]];
const mapSmall=[[-64.245,32.19,"(32° 10'N; 64° 30'W)"],[-64.06,31.885,"(31° 50'N; 64° 10'W)"],[-65.139,31.757,"(Before July 1994: 31° 45'N; 64° 10'W)"],[-65.104,31.614,"(After July 1994; 31° 40'N; 64° 10'W)"],[-64.014,31.587,"(31° 43'N; 64° 10'W)"]];
const mapDegrees=[[-65,32.57,"65°"],[-64,32.57,"64°"],[-65,31.53,"65°"],[-64,31.53,"64°"],[-65.105,32,"32°"],[-63.69,32,"32°"]];
const inset=Plot.plot({width:201,height:173,margin:0,style:{background:"transparent",overflow:"visible"},
  x:{domain:[-65.213,-63.583],axis:null},y:{domain:[31.441,32.635],axis:null},
  marks:[
    Plot.frame({fill:"#5a80c8"}),
    Plot.line(shelf,{x:X,y:Y,fill:"#9bafe0",stroke:"#1b2340",strokeWidth:0.7,curve:"linear-closed"}),
    Plot.line(platform,{x:X,y:Y,fill:"#e6eaf6",stroke:"#1b2340",strokeWidth:0.9,curve:"linear-closed"}),
    Plot.line(island,{x:X,y:Y,fill:"#4fb84a",stroke:"#123",strokeWidth:0.7,curve:"linear-closed"}),
    Plot.dot([[-64.934,32.110],[-64.866,32.150]],{x:X,y:Y,r:3.6,fill:"#e6eaf6",stroke:"#1b2340",strokeWidth:0.7}),
    Plot.dot([[-64.163,31.741]],{x:X,y:Y,r:20.5,fill:"#f9d820",stroke:"#111",strokeWidth:0.8}),
    Plot.dot([[-64.163,31.607]],{x:X,y:Y,r:8,fill:"#e0821c",stroke:"#111",strokeWidth:0.8}),
    Plot.dot([[-64.163,31.822]],{x:X,y:Y,r:3,fill:"#4fc8e8",stroke:"#111",strokeWidth:0.6}),
    Plot.dot([[-64.157,31.704]],{x:X,y:Y,r:3,fill:"#2b3f9c",stroke:"#111",strokeWidth:0.6}),
    Plot.dot([[-64.496,32.164]],{x:X,y:Y,r:3.2,fill:"#ee2a24",stroke:"#111",strokeWidth:0.6}),
    Plot.arrow(arrows,{x1:d=>d[0],y1:d=>d[1],x2:d=>d[2],y2:d=>d[3],stroke:"#000",strokeWidth:1.3,headLength:5,bend:false}),
    Plot.text([[-64.237,32.446,"Bermuda"]],{x:X,y:Y,text:d=>d[2],textAnchor:"start",fontSize:7.5,fontFamily:sans,fill:"#111"}),
    Plot.text(mapBold,{x:X,y:Y,text:d=>d[2],textAnchor:"start",fontSize:6.6,fontWeight:"bold",fontFamily:sans,fill:"#111"}),
    Plot.text(mapSmall,{x:X,y:Y,text:d=>d[2],textAnchor:"start",fontSize:5.2,fontFamily:sans,fill:"#111"}),
    Plot.text(mapDegrees,{x:X,y:Y,text:d=>d[2],fontSize:8,fontFamily:sans,fill:"#111"}),
    Plot.frame({stroke:"#111",strokeWidth:2})
  ]});
const ib=document.createElement("div");ib.className="panel";ib.style.left="152px";ib.style.top="589px";ib.appendChild(inset);page.appendChild(ib);

// axis titles and page frame
function title(html,x,y,rot){
  const d=document.createElement("div");d.className="title";d.innerHTML=html;
  d.style.left=x+"px";d.style.top=y+"px";d.style.transform=`translate(-50%,-50%) rotate(${rot}deg)`;page.appendChild(d);
}
title(`<span style="font-size:38px"><i>p</i>CO<span style="font-size:24px">2</span></span>`,55,233,-90);
title(`<span style="font-size:40px"><i>p</i>CO</span><span style="font-size:22px">2[ANOMALY]</span>`,1104,249,90);
title(`<span style="font-size:38px">pH</span>`,52,580,-90);
title(`<span style="font-size:40px">pH</span><span style="font-size:21.5px">[ANOMALY]</span>`,1108,589,90);
title(`<span class="om" style="font-size:36px">Ω</span><span style="font-size:23px">ARAGONITE</span>`,53,956,-90);
title(`<span class="om" style="font-size:36px">Ω</span><span style="font-size:22px">ARAGOMITE[ANOMALY]</span>`,1099,969,90);

[[0,0,6,1237,"#003596"],[6,0,5,1237,"#3b9ab5"],[0,0,1140,2,"#0a3f96"],[6,2,1134,5,"#1c7fa5"]].forEach(([l,t,w,h,c])=>{
  const b=document.createElement("div");b.className="band";b.style.cssText=`left:${l}px;top:${t}px;width:${w}px;height:${h}px;background:${c}`;page.appendChild(b);
});
</script></body></html>
